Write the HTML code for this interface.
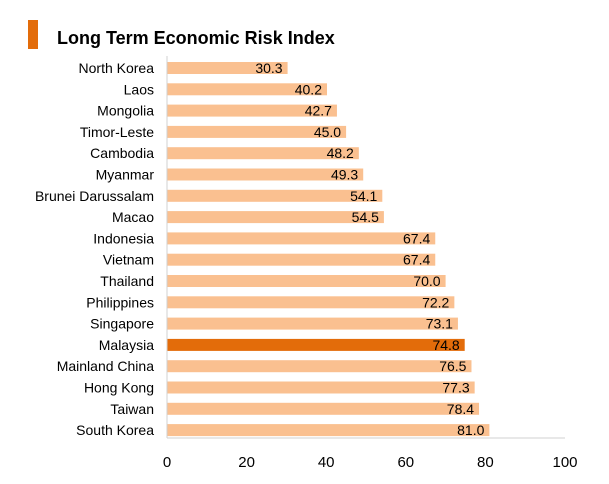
<!DOCTYPE html>
<html><head><meta charset="utf-8"><style>
body{margin:0;background:#fff;font-family:"Liberation Sans",sans-serif}
</style></head><body>
<svg width="609" height="479" id="c" font-family="Liberation Sans, sans-serif">
<rect x="28" y="20" width="10" height="29" fill="#e36c0a"/>
<text x="57" y="44" font-size="18" font-weight="bold" fill="#000">Long Term Economic Risk Index</text>
<g id="bars"></g>
<line x1="167" y1="56" x2="167" y2="438" stroke="#d0d0d0"/>
<line x1="167" y1="438" x2="565" y2="438" stroke="#d0d0d0"/>
<g id="ticks"></g>
</svg>
<script>
const categories=["North Korea","Laos","Mongolia","Timor-Leste","Cambodia","Myanmar","Brunei Darussalam","Macao","Indonesia","Vietnam","Thailand","Philippines","Singapore","Malaysia","Mainland China","Hong Kong","Taiwan","South Korea"];
const values=[30.3,40.2,42.7,45.0,48.2,49.3,54.1,54.5,67.4,67.4,70.0,72.2,73.1,74.8,76.5,77.3,78.4,81.0];
const highlight="Malaysia";
const tickValues=[0,20,40,60,80,100];
const NS="http://www.w3.org/2000/svg";
const x=v=>167+v*3.98;
const y=i=>68+i*21.3;
const bars=document.getElementById('bars');
categories.forEach((c,i)=>{
  const r=document.createElementNS(NS,'rect');
  
  
  r.setAttribute('x',x(0));r.setAttribute('y',y(i)-6);
  r.setAttribute('width',x(values[i])-x(0));r.setAttribute('height',12);
  r.setAttribute('fill',c===highlight?'#e36c0a':'#fac090');
  bars.appendChild(r);
  const l=document.createElementNS(NS,'text');
  
  
  l.setAttribute('x',154);l.setAttribute('y',y(i)+5);
  l.setAttribute('text-anchor','end');l.setAttribute('font-size','14');
  l.textContent=c;bars.appendChild(l);
  const t=document.createElementNS(NS,'text');
  
  
  t.setAttribute('x',x(values[i])-5);t.setAttribute('y',y(i)+5);
  t.setAttribute('text-anchor','end');t.setAttribute('font-size','14');
  t.textContent=values[i].toFixed(1);bars.appendChild(t);
});
const ticks=document.getElementById('ticks');
tickValues.forEach(v=>{
  const t=document.createElementNS(NS,'text');
  
  
  t.setAttribute('x',x(v));t.setAttribute('y',467);
  t.setAttribute('text-anchor','middle');t.setAttribute('font-size','15');
  t.textContent=v;ticks.appendChild(t);
});
</script>
</body></html>
